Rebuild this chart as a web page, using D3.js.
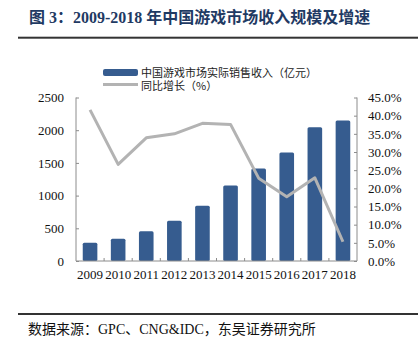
<!DOCTYPE html>
<html>
<head>
<meta charset="utf-8">
<script src="https://cdn.jsdelivr.net/npm/d3@7"></script>
<style>
  body { margin: 0; background: #fff; }
  svg { display: block; }
</style>
</head>
<body>
<div id="chart"></div>
<script>
// years on the x axis
var years = ["2009", "2010", "2011", "2012", "2013", "2014", "2015", "2016", "2017", "2018"];
var revenue = [280, 340, 455, 615, 845, 1155, 1415, 1660, 2045, 2150];
// year-on-year growth, %
var growth = [41.6, 26.6, 33.9, 35.0, 37.9, 37.6, 22.8, 17.7, 22.9, 5.3];
var leftTicks = [0, 500, 1000, 1500, 2000, 2500];
var rightTicks = [0, 5, 10, 15, 20, 25, 30, 35, 40, 45];

var W = 418, H = 351;
// plot box (window.top is reserved, so use other names)
var plotL = 76, plotR = 357, plotT = 97.5, plotB = 261;
var serif = "'Liberation Serif', 'Times New Roman', serif";
var cjk = "'Noto Sans CJK SC', sans-serif";

var svg = d3.select("#chart").append("svg").attr("width", W).attr("height", H);

// title and rules
svg.append("text")
  .attr("x", 29).attr("y", 23)
  .attr("font-family", "'Liberation Serif', 'Noto Sans CJK SC', serif")
  .attr("font-weight", "bold").attr("font-size", 16)
  .attr("fill", "#1f3a63")
  .text("图 3：2009-2018 年中国游戏市场收入规模及增速");
svg.append("rect").attr("x", 18).attr("y", 36.7).attr("width", W - 18).attr("height", 2).attr("fill", "#333");
svg.append("rect").attr("x", 18).attr("y", 313).attr("width", W - 18).attr("height", 2).attr("fill", "#333");
svg.append("text")
  .attr("x", 28).attr("y", 334)
  .attr("font-family", "'Liberation Serif', 'Noto Sans CJK SC', serif")
  .attr("font-size", 14).attr("fill", "#111")
  .text("数据来源：GPC、CNG&IDC，东吴证券研究所");

// scales
var x = d3.scaleBand().domain(years).range([plotL, plotR]).paddingInner(0.48).paddingOuter(0.24);
var xEdge = d3.scaleBand().domain(years).range([plotL, plotR]);
var yL = d3.scaleLinear().domain([0, 2500]).range([plotB, plotT]);
var yR = d3.scaleLinear().domain([0, 45]).range([plotB, plotT]);

// bars
svg.append("g").selectAll("rect").data(revenue).enter().append("rect")
  .attr("x", function(d, i) { return x(years[i]); })
  .attr("y", function(d) { return yL(d); })
  .attr("width", x.bandwidth())
  .attr("height", function(d) { return plotB - yL(d); })
  .attr("rx", 1.5)
  .attr("fill", "#365c8f");

// growth line
var line = d3.line()
  .x(function(d, i) { return xEdge(years[i]) + xEdge.bandwidth() / 2; })
  .y(function(d) { return yR(d); });
svg.append("path").datum(growth)
  .attr("d", line)
  .attr("fill", "none")
  .attr("stroke", "#b3b3b3")
  .attr("stroke-width", 3)
  .attr("stroke-linejoin", "round");

// axes
var axisColor = "#8c8c8c";
var gL = svg.append("g").attr("transform", "translate(" + plotL + ",0)")
  .call(d3.axisRight(yL).tickValues(leftTicks).tickSize(3).tickFormat(d3.format("d")));
gL.selectAll("text").attr("x", -12).attr("text-anchor", "end");

var gR = svg.append("g").attr("transform", "translate(" + plotR + ",0)")
  .call(d3.axisLeft(yR).tickValues(rightTicks).tickSize(3).tickFormat(function(d) { return d.toFixed(1) + "%"; }));
gR.selectAll("text").attr("x", 11).attr("text-anchor", "start");

var gX = svg.append("g").attr("transform", "translate(0," + plotB + ")")
  .call(d3.axisTop(xEdge).tickSize(0).tickFormat(""));
gX.selectAll(".tick").remove();
// band boundary ticks
gX.selectAll("line.sep").data(years.slice(1)).enter().append("line")
  .attr("class", "sep")
  .attr("x1", function(d) { return xEdge(d); })
  .attr("x2", function(d) { return xEdge(d); })
  .attr("y1", 0).attr("y2", -3)
  .attr("stroke", axisColor);
gX.selectAll("text.yr").data(years).enter().append("text")
  .attr("class", "yr")
  .attr("x", function(d) { return xEdge(d) + xEdge.bandwidth() / 2; })
  .attr("y", 18)
  .attr("text-anchor", "middle")
  .text(function(d) { return d; });

[gL, gR, gX].forEach(function(g) {
  g.selectAll("path.domain").attr("stroke", axisColor);
  g.selectAll(".tick line").attr("stroke", axisColor);
  g.selectAll("text").attr("font-family", serif).attr("font-size", 13).attr("fill", "#111");
});
gL.select("path.domain").attr("d", "M0," + plotB + "V" + plotT);
gR.select("path.domain").attr("d", "M0," + plotB + "V" + plotT);
gX.select("path.domain").attr("d", "M" + plotL + ",0H" + plotR);

// legend
var lg = svg.append("g");
lg.append("rect").attr("x", 103).attr("y", 69).attr("width", 35).attr("height", 7).attr("rx", 2).attr("fill", "#365c8f");
lg.append("line").attr("x1", 103).attr("x2", 138).attr("y1", 84.5).attr("y2", 84.5)
  .attr("stroke", "#b3b3b3").attr("stroke-width", 3);
lg.append("text").attr("x", 141).attr("y", 77).attr("font-family", cjk).attr("font-size", 11).attr("fill", "#222")
  .text("中国游戏市场实际销售收入（亿元）");
lg.append("text").attr("x", 141).attr("y", 90).attr("font-family", cjk).attr("font-size", 11).attr("fill", "#222")
  .text("同比增长（%）");
</script>
</body>
</html>
